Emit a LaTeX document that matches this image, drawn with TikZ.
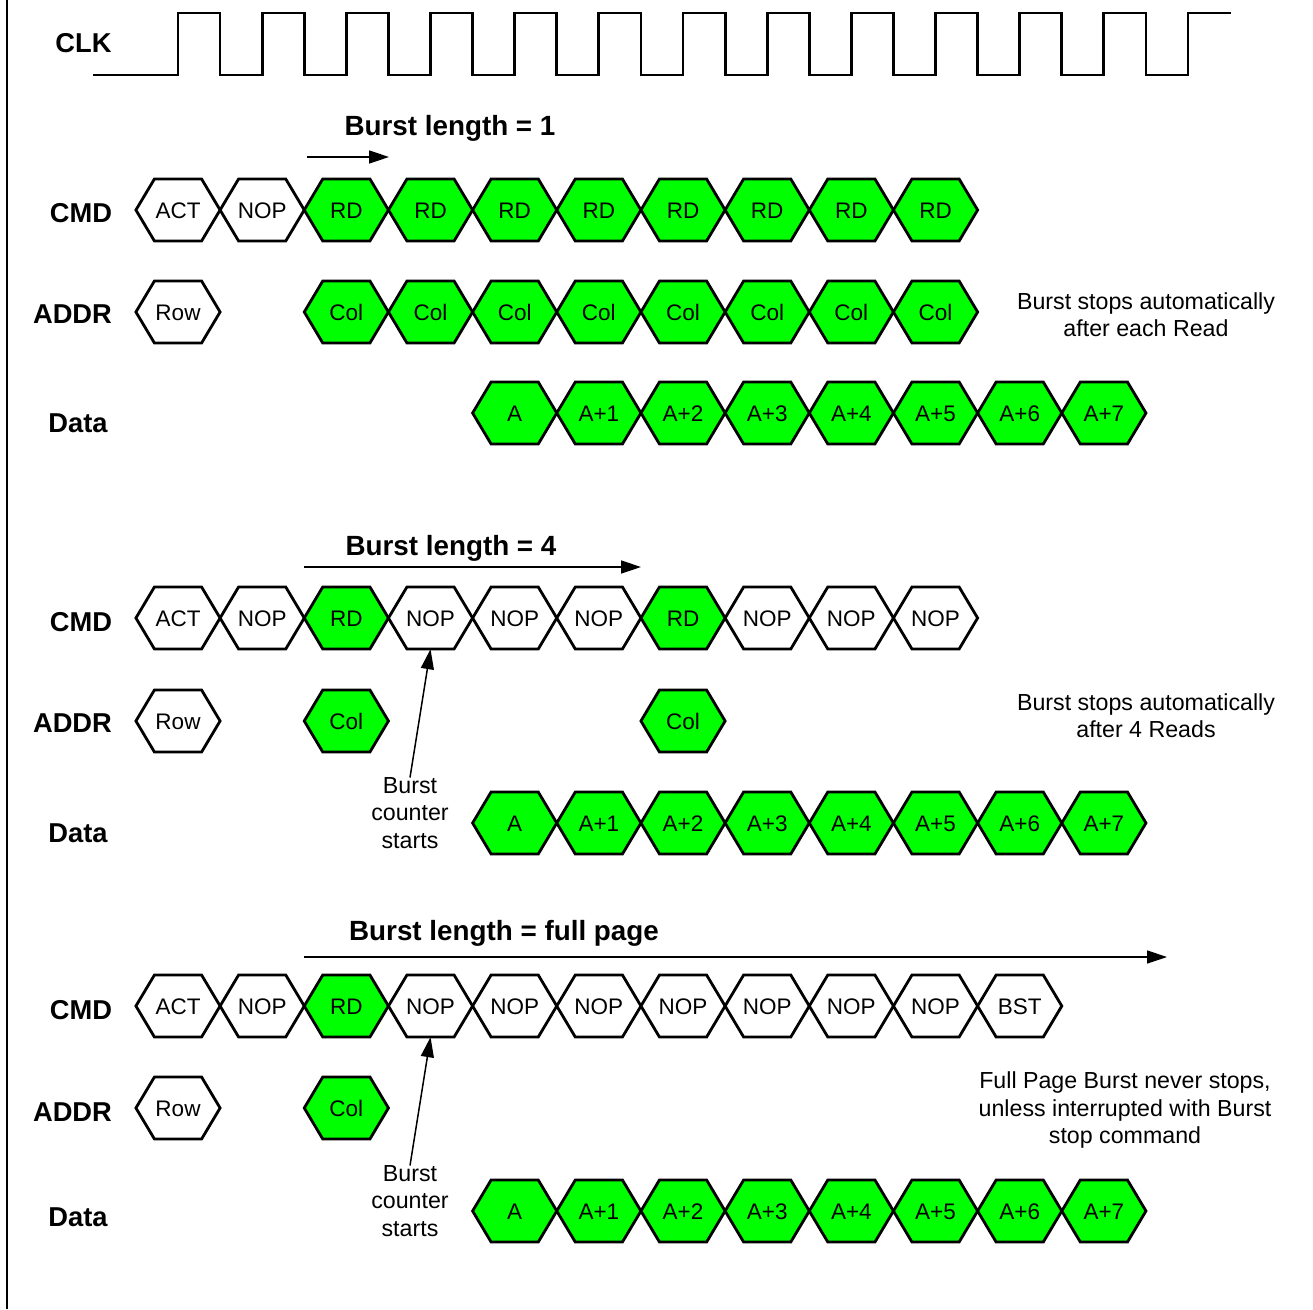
\documentclass[tikz,border=0pt]{standalone}
\usepackage{fontspec}
\setmainfont{Liberation Sans}
\usetikzlibrary{arrows.meta}
\definecolor{sig}{HTML}{00FF00}
\tikzset{
  wave/.style={line width=2.8pt, line join=miter},
  hexline/.style={line width=2.8pt, line join=miter},
  cell/.style={minimum width=84.17pt, minimum height=62pt, inner sep=0pt,
    text height=16pt, text depth=0pt, font=\fontsize{22.5}{27}\selectfont},
  signame/.style={inner sep=0pt, text height=19pt, text depth=0pt,
    font=\fontsize{27.3}{32}\selectfont\bfseries},
  title/.style={inner sep=0pt, text height=19pt, text depth=0pt,
    font=\fontsize{27.8}{32}\selectfont\bfseries},
  note/.style={inner sep=0pt, align=center, font=\fontsize{23.2}{27.2}\selectfont},
  span/.style={line width=1.5pt, -{Triangle[length=20pt,width=13pt]}},
}
% one bus cell: #1 slot index, #2 row y, #3 node name, #4 fill, #5 text
\newcommand{\hexcell}[5]{%
  \filldraw[hexline, fill=#4] ({178+84.17*(#1)-42.08},#2) -- ++(18.5,-31)
    -- ++(47.17,0) -- ++(18.5,31) -- ++(-18.5,31) -- ++(-47.17,0) -- cycle;
  \node[cell] (#3) at ({178+84.17*(#1)},#2) {#5};%
}
\begin{document}
\begin{tikzpicture}[x=1pt, y=-1pt]
\useasboundingbox (0,0) rectangle (1313,1309);

% left frame line
\draw[line width=2.5pt] (7,0) -- (7,1309);

% clock
\node[signame] (clk) at (83.5,43) {CLK};
\draw[wave] (93,75)
  foreach \i in {0,...,11} {
    -- ({178+84.17*\i},75) -- ({178+84.17*\i},13)
    -- ({220.08+84.17*\i},13) -- ({220.08+84.17*\i},75)
  } -- (1188,75) -- (1188,13) -- (1231,13);

% ---------- burst length = 1 ----------
\node[title] (t1) at (450,126) {Burst length = 1};
\coordinate (a1s) at (307,157);
\coordinate (a1e) at (389,157);
\draw[span] (a1s) -- (a1e);

\node[signame] (cmd1) at (81,213) {CMD};
\node[signame] (addr1) at (72.5,314) {ADDR};
\node[signame] (data1) at (78,423) {Data};

\hexcell{0}{210}{s1c0}{white}{ACT}
\hexcell{1}{210}{s1c1}{white}{NOP}
\foreach \i in {2,...,9} {\hexcell{\i}{210}{s1c\i}{sig}{RD}}
\hexcell{0}{312}{s1a0}{white}{Row}
\foreach \i in {2,...,9} {\hexcell{\i}{312}{s1a\i}{sig}{Col}}
\hexcell{4}{413}{s1d0}{sig}{A}
\foreach \k in {1,...,7} {\hexcell{4+\k}{413}{s1d\k}{sig}{A+\k}}

\node[note] (n1) at (1146,315) {Burst stops automatically\\after each Read};

% ---------- burst length = 4 ----------
\node[title] (t2) at (451,546) {Burst length = 4};
\coordinate (a2s) at (304,567);
\coordinate (a2e) at (641,567);
\draw[span] (a2s) -- (a2e);

\node[signame] (cmd2) at (81,622) {CMD};
\node[signame] (addr2) at (72.5,723) {ADDR};
\node[signame] (data2) at (78,833) {Data};

\hexcell{0}{618}{s2c0}{white}{ACT}
\hexcell{1}{618}{s2c1}{white}{NOP}
\hexcell{2}{618}{s2c2}{sig}{RD}
\foreach \i in {3,4,5} {\hexcell{\i}{618}{s2c\i}{white}{NOP}}
\hexcell{6}{618}{s2c6}{sig}{RD}
\foreach \i in {7,8,9} {\hexcell{\i}{618}{s2c\i}{white}{NOP}}
\hexcell{0}{721}{s2a0}{white}{Row}
\hexcell{2}{721}{s2a2}{sig}{Col}
\hexcell{6}{721}{s2a6}{sig}{Col}
\hexcell{4}{823}{s2d0}{sig}{A}
\foreach \k in {1,...,7} {\hexcell{4+\k}{823}{s2d\k}{sig}{A+\k}}

\node[note] (bc2) at (410,813) {Burst\\counter\\starts};
\draw[span] (bc2.north) -- (s2c3.south);
\node[note] (n2) at (1146,716) {Burst stops automatically\\after 4 Reads};

% ---------- burst length = full page ----------
\node[title] (t3) at (504,931) {Burst length = full page};
\coordinate (a3s) at (304,957);
\coordinate (a3e) at (1167,957);
\draw[span] (a3s) -- (a3e);

\node[signame] (cmd3) at (81,1010) {CMD};
\node[signame] (addr3) at (72.5,1112) {ADDR};
\node[signame] (data3) at (78,1217) {Data};

\hexcell{0}{1006}{s3c0}{white}{ACT}
\hexcell{1}{1006}{s3c1}{white}{NOP}
\hexcell{2}{1006}{s3c2}{sig}{RD}
\foreach \i in {3,...,9} {\hexcell{\i}{1006}{s3c\i}{white}{NOP}}
\hexcell{10}{1006}{s3c10}{white}{BST}
\hexcell{0}{1108}{s3a0}{white}{Row}
\hexcell{2}{1108}{s3a2}{sig}{Col}
\hexcell{4}{1211}{s3d0}{sig}{A}
\foreach \k in {1,...,7} {\hexcell{4+\k}{1211}{s3d\k}{sig}{A+\k}}

\node[note] (bc3) at (410,1201) {Burst\\counter\\starts};
\draw[span] (bc3.north) -- (s3c3.south);
\node[note] (n3) at (1125,1110) {Full Page Burst never stops,\\unless interrupted with Burst\\stop command};
\end{tikzpicture}
\end{document}
